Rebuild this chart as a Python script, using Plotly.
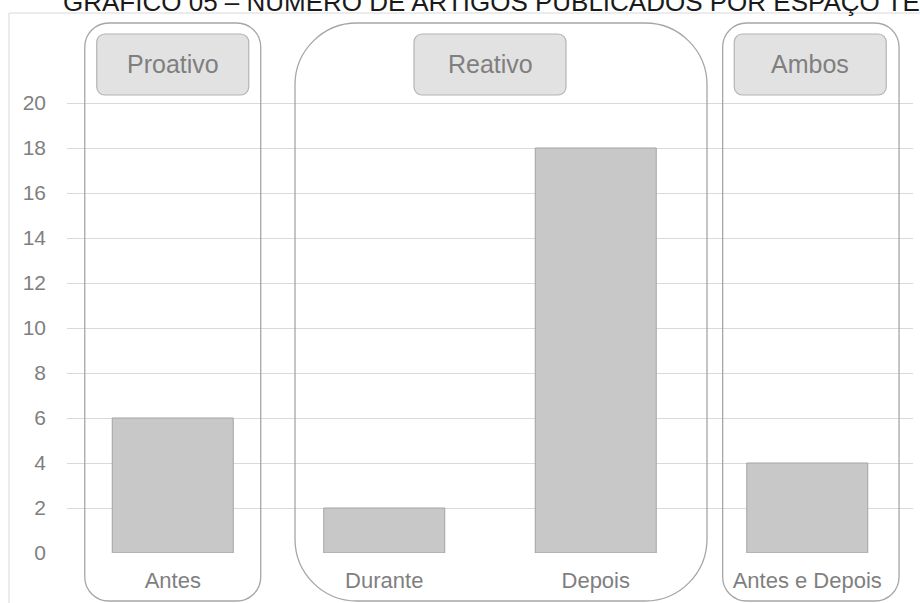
import plotly.graph_objects as go

# ---- data ----
categories = ["Antes", "Durante", "Depois", "Antes e Depois"]
values = [6, 2, 18, 4]
group_names = ["Proativo", "Reativo", "Ambos"]
group_members = [[0], [1, 2], [3]]
y_tickvals = [0, 2, 4, 6, 8, 10, 12, 14, 16, 18, 20]
title_text = "GRÁFICO 05 – NÚMERO DE ARTIGOS PUBLICADOS POR ESPAÇO TEMPORAL"

# ---- layout geometry (pixels) ----
W, H = 920, 603
ML, MR, MT, MB = 67, 7, 13, 50
PW = W - ML - MR
PH = H - MT - MB
YMAX = 24.0
FONT = "Liberation Sans, Arial, sans-serif"
GREY_TXT = "#7f7f7f"


def px_x(xd):
    return ML + (xd + 0.5) * PW / len(categories)


def X(px):
    return (px - ML) / PW


def Y(py):
    return (H - MB - py) / PH


def rrect(x0, x1, y0, y1, r):
    k = 0.5523 * r
    pts = [
        f"M{X(x0 + r)},{Y(y0)}",
        f"L{X(x1 - r)},{Y(y0)}",
        f"C{X(x1 - r + k)},{Y(y0)} {X(x1)},{Y(y0 + r - k)} {X(x1)},{Y(y0 + r)}",
        f"L{X(x1)},{Y(y1 - r)}",
        f"C{X(x1)},{Y(y1 - r + k)} {X(x1 - r + k)},{Y(y1)} {X(x1 - r)},{Y(y1)}",
        f"L{X(x0 + r)},{Y(y1)}",
        f"C{X(x0 + r - k)},{Y(y1)} {X(x0)},{Y(y1 - r + k)} {X(x0)},{Y(y1 - r)}",
        f"L{X(x0)},{Y(y0 + r)}",
        f"C{X(x0)},{Y(y0 + r - k)} {X(x0 + r - k)},{Y(y0)} {X(x0 + r)},{Y(y0)}",
        "Z",
    ]
    return " ".join(pts)


fig = go.Figure()
fig.add_trace(go.Bar(
    x=categories, y=values,
    marker=dict(color="#c8c8c8", line=dict(color="#a3a3a3", width=1)),
    hoverinfo="x+y",
))

shapes = []
annotations = []

# outer chart frame
shapes.append(dict(type="rect", xref="paper", yref="paper",
                   x0=X(9), x1=X(960), y0=Y(640), y1=Y(13),
                   line=dict(color="#d9d9d9", width=1), layer="below"))

# group boxes (left pad, right pad in category units, corner radius px)
box_pads = [(0.416, 0.416, 24), (0.422, 0.526, 62), (0.40, 0.434, 24)]
label_w, label_top, label_bot = 152, 34, 95
for name, mem, (pl, pr, r) in zip(group_names, group_members, box_pads):
    bx0 = px_x(min(mem) - pl)
    bx1 = px_x(max(mem) + pr)
    shapes.append(dict(type="path", xref="paper", yref="paper",
                       path=rrect(bx0, bx1, 23, 601, r),
                       line=dict(color="#a6a6a6", width=1.3), layer="above"))
    cx = px_x(sum(mem) / len(mem))
    if len(mem) == 1 and mem[0] == 3:
        cx += 3
    shapes.append(dict(type="path", xref="paper", yref="paper",
                       path=rrect(cx - label_w / 2, cx + label_w / 2, label_top, label_bot, 8),
                       fillcolor="#e2e2e2",
                       line=dict(color="#b4b4b4", width=1.2), layer="above"))
    annotations.append(dict(xref="paper", yref="paper", x=X(cx), y=Y((label_top + label_bot) / 2),
                            text=name, showarrow=False, xanchor="center", yanchor="middle",
                            font=dict(family=FONT, size=25, color=GREY_TXT)))

# title (clipped by the top of the page as in the reference)
annotations.append(dict(xref="paper", yref="paper", x=X(61), y=Y(2),
                        text=title_text, showarrow=False, xanchor="left", yanchor="middle",
                        font=dict(family=FONT, size=26, color="#1a1a1a")))

fig.update_layout(
    width=W, height=H,
    margin=dict(l=ML, r=MR, t=MT, b=MB, pad=0),
    paper_bgcolor="white", plot_bgcolor="white",
    showlegend=False,
    bargap=0.428,
    shapes=shapes,
    annotations=annotations,
    font=dict(family=FONT, color=GREY_TXT),
    xaxis=dict(showgrid=False, showline=False, zeroline=False, ticks="",
               range=[-0.5, 3.5], fixedrange=True,
               tickfont=dict(family=FONT, size=22, color=GREY_TXT),
               ticklabelstandoff=12),
    yaxis=dict(range=[0, YMAX], tickvals=y_tickvals, showgrid=True,
               gridcolor="#d9d9d9", gridwidth=1, zeroline=False, showline=False,
               ticks="", tickfont=dict(family=FONT, size=21, color=GREY_TXT),
               ticklabelstandoff=20, fixedrange=True),
)

fig.write_html("out.html")
